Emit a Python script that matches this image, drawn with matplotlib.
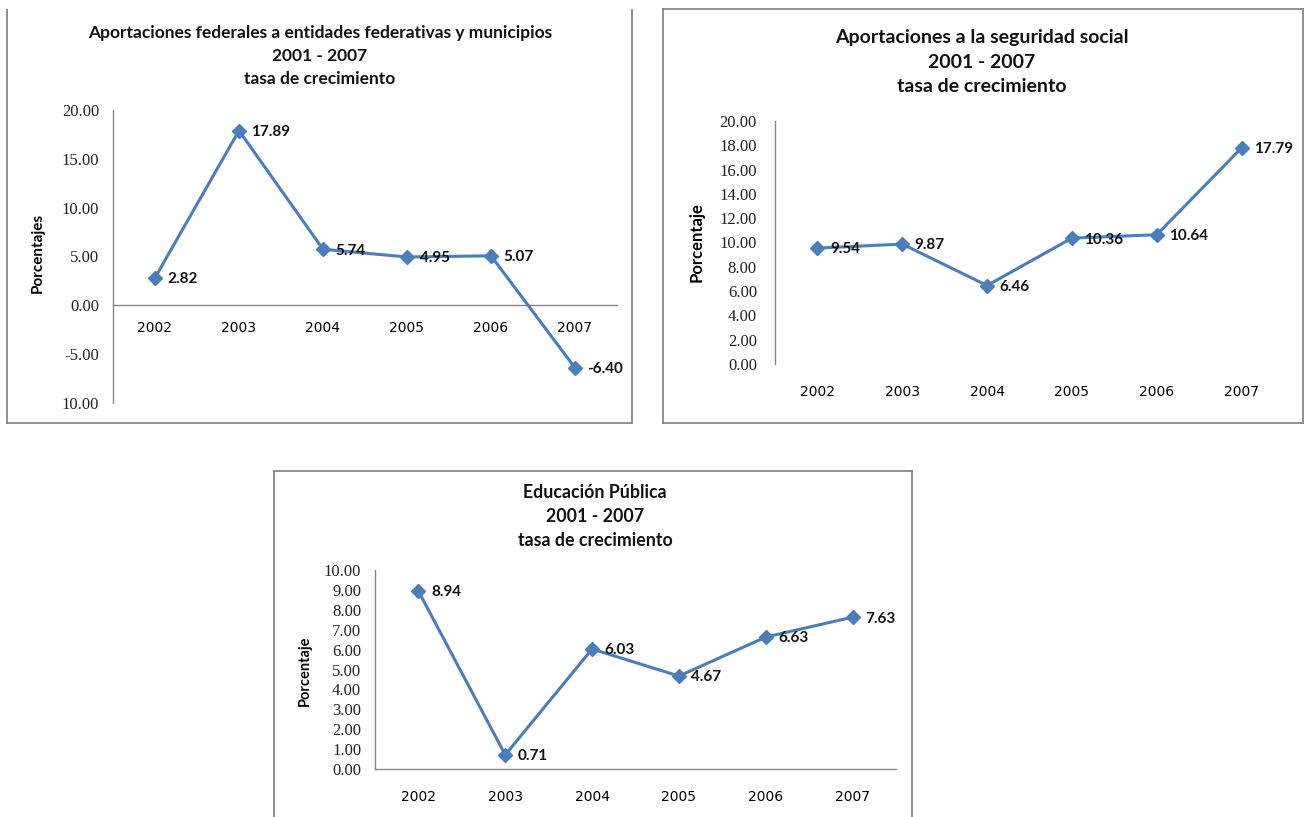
import matplotlib
matplotlib.use("Agg")
import matplotlib.pyplot as plt
from matplotlib.lines import Line2D

# --- data -------------------------------------------------------------
years = ["2002", "2003", "2004", "2005", "2006", "2007"]

federales = [2.82, 17.89, 5.74, 4.95, 5.07, -6.40]
seguridad = [9.54, 9.87, 6.46, 10.36, 10.64, 17.79]
educacion = [8.94, 0.71, 6.03, 4.67, 6.63, 7.63]

fed_ticks = [-10, -5, 0, 5, 10, 15, 20]
fed_ticklabels = ["10.00", "-5.00", "0.00", "5.00", "10.00", "15.00", "20.00"]
seg_ticks = [0, 2, 4, 6, 8, 10, 12, 14, 16, 18, 20]
edu_ticks = [0, 1, 2, 3, 4, 5, 6, 7, 8, 9, 10]

titles = {
    "fed": ["Aportaciones federales a entidades federativas y municipios",
            "2001 - 2007", "tasa de crecimiento"],
    "seg": ["Aportaciones a la seguridad social", "2001 - 2007",
            "tasa de crecimiento"],
    "edu": ["Educación Pública", "2001 - 2007", "tasa de crecimiento"],
}

# --- style ------------------------------------------------------------
W, H = 1306, 817
LINE = "#4A7EBB"
GREY = "#868686"
SANS = ["Lato", "DejaVu Sans"]
SERIF = ["Liberation Serif", "DejaVu Serif"]

fig = plt.figure(figsize=(W / 100, H / 100), dpi=100)
fig.patch.set_facecolor("white")


def fx(px):
    return px / W


def fy(py):
    return 1 - py / H


def frame(segments, lw=1.3):
    for (x0, y0), (x1, y1) in segments:
        fig.add_artist(Line2D([fx(x0), fx(x1)], [fy(y0), fy(y1)],
                              color=GREY, lw=lw, transform=fig.transFigure))


def panel(rect_px, values, ylim, ticks, ticklabels, ylabel, ylabel_pos,
          ylabel_size, title_lines, title_x, title_ys, title_size,
          show_xaxis=True, xlab_pad=14, ylab_pad=10):
    x0, y_top, x1, y_bot = rect_px
    ax = fig.add_axes([fx(x0), fy(y_bot), fx(x1 - x0), (y_bot - y_top) / H])
    ax.set_facecolor("none")
    idx = list(range(len(years)))
    ax.plot(idx, values, color=LINE, lw=2.2, marker="D", ms=7,
            mec=LINE, mfc=LINE, zorder=3, solid_joinstyle="round")
    for i, v in zip(idx, values):
        ax.annotate(f"{v:.2f}", (i, v), xytext=(9, -1),
                    textcoords="offset points", ha="left", va="center",
                    fontsize=11, fontweight="bold", family=SANS,
                    color="#111111", zorder=4)
    ax.set_xlim(-0.5, len(years) - 0.5)
    ax.set_ylim(*ylim)
    ax.set_yticks(ticks)
    ax.set_yticklabels(ticklabels, family=SERIF, fontsize=12,
                       color="#222222")
    ax.set_xticks(idx)
    ax.set_xticklabels(years, family=SERIF, fontsize=12, color="#222222")
    ax.tick_params(axis="both", length=0)
    ax.tick_params(axis="y", pad=ylab_pad)
    ax.tick_params(axis="x", pad=xlab_pad)
    for s in ("top", "right"):
        ax.spines[s].set_visible(False)
    ax.spines["left"].set_color(GREY)
    ax.spines["left"].set_linewidth(1.0)
    ax.spines["bottom"].set_position(("data", 0))
    ax.spines["bottom"].set_color(GREY)
    ax.spines["bottom"].set_linewidth(1.0)
    if not show_xaxis:
        ax.spines["bottom"].set_visible(False)
    fig.text(fx(ylabel_pos[0]), fy(ylabel_pos[1]), ylabel, rotation=90,
             ha="center", va="center", fontsize=ylabel_size,
             fontweight="bold", family=SANS)
    for line, ty in zip(title_lines, title_ys):
        fig.text(fx(title_x), fy(ty), line, ha="center", va="center",
                 fontsize=title_size, fontweight="bold", family=SANS,
                 color="#111111")
    return ax


# Panel frames
frame([((7, 10), (7, 423)), ((632, 10), (632, 423)), ((7, 423), (632, 423))])
frame([((663, 9), (663, 423)), ((1303, 9), (1303, 423)),
       ((663, 9), (1303, 9)), ((663, 423), (1303, 423))])
frame([((274, 471), (274, 817)), ((912, 471), (912, 817)),
       ((274, 471), (912, 471))])

panel((113, 110, 617, 403), federales, (-10, 20), fed_ticks, fed_ticklabels,
      "Porcentajes", (38, 253), 11, titles["fed"], 320, (33, 56, 79), 12.5,
      xlab_pad=11, ylab_pad=10)

panel((775, 121, 1284, 364), seguridad, (0, 20), seg_ticks,
      [f"{t:.2f}" for t in seg_ticks], "Porcentaje", (697, 242), 12,
      titles["seg"], 982, (37, 62, 87), 14, show_xaxis=False,
      xlab_pad=15, ylab_pad=13)

panel((375, 570, 896, 769), educacion, (0, 10), edu_ticks,
      [f"{t:.2f}" for t in edu_ticks], "Porcentaje", (305, 671), 10.5,
      titles["edu"], 595, (493, 517, 540), 12.8, xlab_pad=15, ylab_pad=10)

fig.savefig("out.png", dpi=100, facecolor="white")
